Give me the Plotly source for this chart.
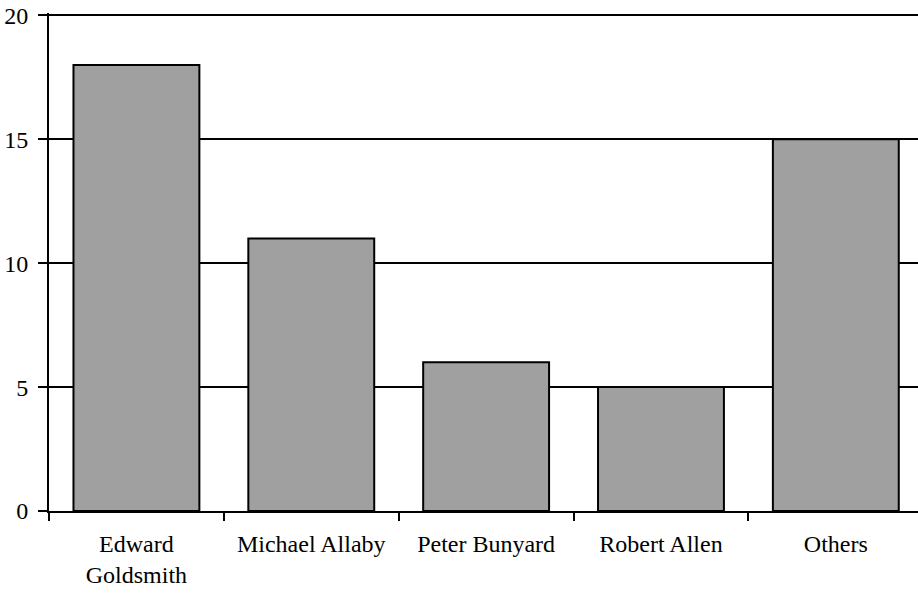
import plotly.graph_objects as go

categories = ["Edward<br>Goldsmith", "Michael Allaby", "Peter Bunyard", "Robert Allen", "Others"]
values = [18, 11, 6, 5, 15]
y_ticks = [0, 5, 10, 15, 20]

fig = go.Figure(
    go.Bar(
        x=categories,
        y=values,
        marker=dict(color="#a0a0a0", line=dict(color="black", width=2)),
        width=0.72,
    )
)

font = dict(family="Liberation Serif, Times New Roman, serif", size=24, color="black")

fig.update_layout(
    width=918,
    height=597,
    margin=dict(l=49, r=0, t=13, b=86),
    paper_bgcolor="white",
    plot_bgcolor="white",
    showlegend=False,
    font=font,
    bargap=0.28,
)

fig.update_xaxes(
    range=[-0.5, 4.47],
    showline=True,
    linecolor="black",
    linewidth=2,
    ticks="outside",
    tickson="boundaries",
    ticklen=8,
    tickwidth=2,
    tickcolor="black",
    showgrid=False,
    tickfont=font,
    ticklabelstandoff=10,
    automargin=False,
)

fig.update_yaxes(
    range=[0, 20.1],
    tickvals=y_ticks,
    showline=True,
    linecolor="black",
    linewidth=2,
    ticks="outside",
    ticklen=9,
    tickwidth=2,
    tickcolor="black",
    showgrid=True,
    gridcolor="black",
    gridwidth=2,
    zeroline=False,
    tickfont=font,
    ticklabelstandoff=5,
    automargin=False,
)

fig.write_html(
    "out.html",
    config={"displayModeBar": False},
    post_script="document.body.style.margin='0';document.body.style.overflow='hidden';",
)
